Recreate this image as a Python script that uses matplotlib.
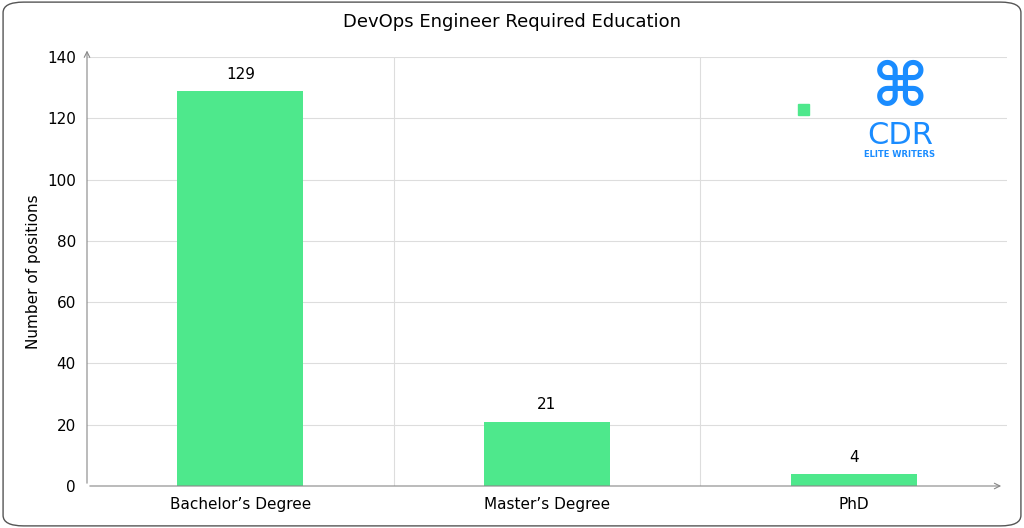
import matplotlib.pyplot as plt
from matplotlib.patches import FancyBboxPatch

categories = ["Bachelor\u2019s Degree", "Master\u2019s Degree", "PhD"]
positions = [129, 21, 4]
yticks = [0, 20, 40, 60, 80, 100, 120, 140]

green = '#4ee88c'
fig = plt.figure(figsize=(10.24, 5.28), dpi=100)
fig.patches.append(FancyBboxPatch((0.003, 0.004), 0.994, 0.992, boxstyle='round,pad=0,rounding_size=0.02',
                                  transform=fig.transFigure, fc='none', ec='#555555', lw=1, zorder=5))
ax = fig.add_axes([87/1024, 42/528, 920/1024, 429/528])
ax.set_facecolor('none')
x = range(len(categories))
ax.bar(x, positions, width=0.41, color=green, zorder=3)
for i, v in zip(x, positions):
    ax.text(i, v + 3, str(v), ha='center', va='bottom', fontsize=11)
ax.set_xlim(-0.5, 2.5)
ax.set_ylim(0, 140)
ax.set_yticks(yticks)
ax.set_xticks(list(x))
ax.set_xticklabels(categories, fontsize=11)
ax.tick_params(axis='y', labelsize=11, length=0, pad=8)
ax.tick_params(axis='x', length=0, pad=8)
for t in yticks[1:]:
    ax.axhline(t, color='#dddddd', lw=0.8, zorder=0)
for b in [0.5, 1.5]:
    ax.axvline(b, color='#dddddd', lw=0.8, zorder=0)
for s in ax.spines.values():
    s.set_visible(False)
ax.annotate('', xy=(2.49, 0), xytext=(-0.5, 0), annotation_clip=False,
            arrowprops=dict(arrowstyle='->', color='#888888', lw=0.8))
ax.annotate('', xy=(-0.5, 143), xytext=(-0.5, 0), annotation_clip=False,
            arrowprops=dict(arrowstyle='->', color='#888888', lw=0.8))
ax.set_ylabel('Number of positions', fontsize=11)
fig.text(0.5, 1-22/528, 'DevOps Engineer Required Education', ha='center', va='center', fontsize=13)

# legend marker (no text) and logo
fig.patches.append(plt.Rectangle((798/1024, 1-115/528), 11/1024, 11/528, transform=fig.transFigure, color=green))
fig.text(900/1024, 1-90/528, '\u2318', ha='center', va='center', fontsize=44, color='#1a8cff', fontweight='bold')
fig.text(900/1024, 1-136/528, 'CDR', ha='center', va='center', fontsize=22, color='#1a8cff')
fig.text(900/1024, 1-154/528, 'ELITE WRITERS', ha='center', va='center', fontsize=6, color='#1a8cff', fontweight='bold')

fig.savefig('out.png', dpi=100)
